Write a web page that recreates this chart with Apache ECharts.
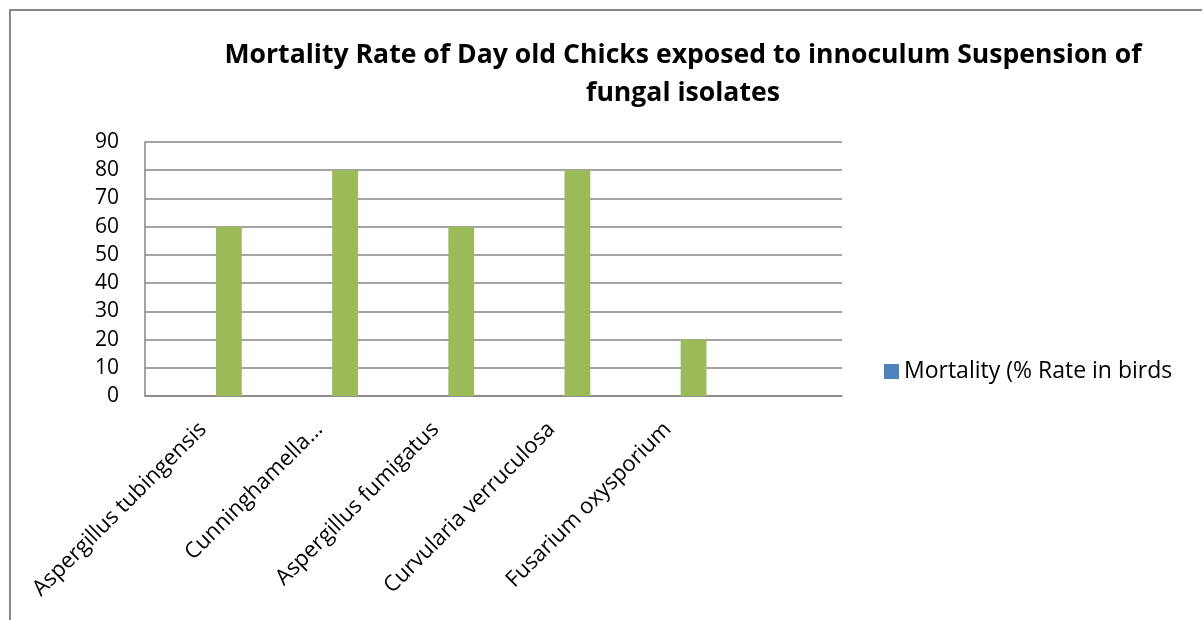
<!DOCTYPE html>
<html>
<head>
<meta charset="utf-8">
<script src="https://cdn.jsdelivr.net/npm/echarts@6/dist/echarts.min.js"></script>
<style>
  html, body { margin: 0; padding: 0; background: #ffffff; }
  #chart { width: 1203px; height: 620px; }
</style>
</head>
<body>
<div id="chart"></div>
<script>
// Fungal isolates tested on day-old chicks (last slot left empty)
const categories = [
  'Aspergillus tubingensis',
  'Cunninghamella...',
  'Aspergillus fumigatus',
  'Curvularia verruculosa',
  'Fusarium oxysporium',
  ''
];
// Mortality (%) per isolate
const mortalityValues = [60, 80, 60, 80, 20, null];
// Empty placeholder series kept in the cluster layout
const legendSeriesValues = [null, null, null, null, null, null];
const secondSeriesValues = [null, null, null, null, null, null];
// Value axis ticks
const yMin = 0, yMax = 90, yStep = 10;

const FONT = "'Open Sans', 'Liberation Sans', sans-serif";
const chart = echarts.init(document.getElementById('chart'), null, { renderer: 'canvas' });

chart.setOption({
  backgroundColor: '#ffffff',
  animation: false,
  title: {
    text: 'Mortality Rate of Day old Chicks exposed to innoculum Suspension of\nfungal isolates',
    left: 678,
    top: 31,
    textAlign: 'center',
    textStyle: {
      fontFamily: FONT,
      fontWeight: 'bold',
      fontSize: 26.6,
      lineHeight: 38,
      color: '#000000'
    }
  },
  legend: {
    data: [{ name: 'Mortality (% Rate in birds', itemStyle: { color: '#4F81BD' } }],
    left: 879,
    top: 355,
    icon: 'rect',
    itemWidth: 15,
    itemHeight: 15,
    itemGap: 6,
    textStyle: { fontFamily: FONT, fontSize: 23, color: '#000000' }
  },
  grid: { left: 145, top: 142, right: 361, bottom: 224, containLabel: false },
  xAxis: {
    type: 'category',
    data: categories,
    axisLine: { show: true, lineStyle: { color: '#868686', width: 1.5 } },
    axisTick: { show: false },
    axisLabel: {
      rotate: 45,
      interval: 0,
      margin: 30,
      fontFamily: FONT,
      fontSize: 22,
      color: '#000000'
    }
  },
  yAxis: {
    type: 'value',
    min: yMin,
    max: yMax,
    interval: yStep,
    axisLine: { show: true, lineStyle: { color: '#868686', width: 1.5 } },
    axisTick: { show: false },
    axisLabel: { margin: 26, fontFamily: FONT, fontSize: 21, color: '#000000' },
    splitLine: { show: true, lineStyle: { color: '#868686', width: 1.5 } }
  },
  series: [
    {
      name: 'Mortality (% Rate in birds',
      type: 'bar',
      data: legendSeriesValues,
      itemStyle: { color: '#4F81BD' },
      barGap: '0%',
      barCategoryGap: '33.33%'
    },
    {
      name: 'Series 2',
      type: 'bar',
      data: secondSeriesValues,
      itemStyle: { color: '#C0504D' },
      barGap: '0%',
      barCategoryGap: '33.33%'
    },
    {
      name: 'Mortality (%)',
      type: 'bar',
      data: mortalityValues,
      itemStyle: { color: '#9BBB59' },
      barGap: '0%',
      barCategoryGap: '33.33%'
    }
  ],
  graphic: [
    {
      type: 'polyline',
      shape: { points: [[10, 620], [10, 10], [1202, 10]] },
      style: { stroke: '#888888', lineWidth: 2, fill: null },
      silent: true
    }
  ]
});
</script>
</body>
</html>
